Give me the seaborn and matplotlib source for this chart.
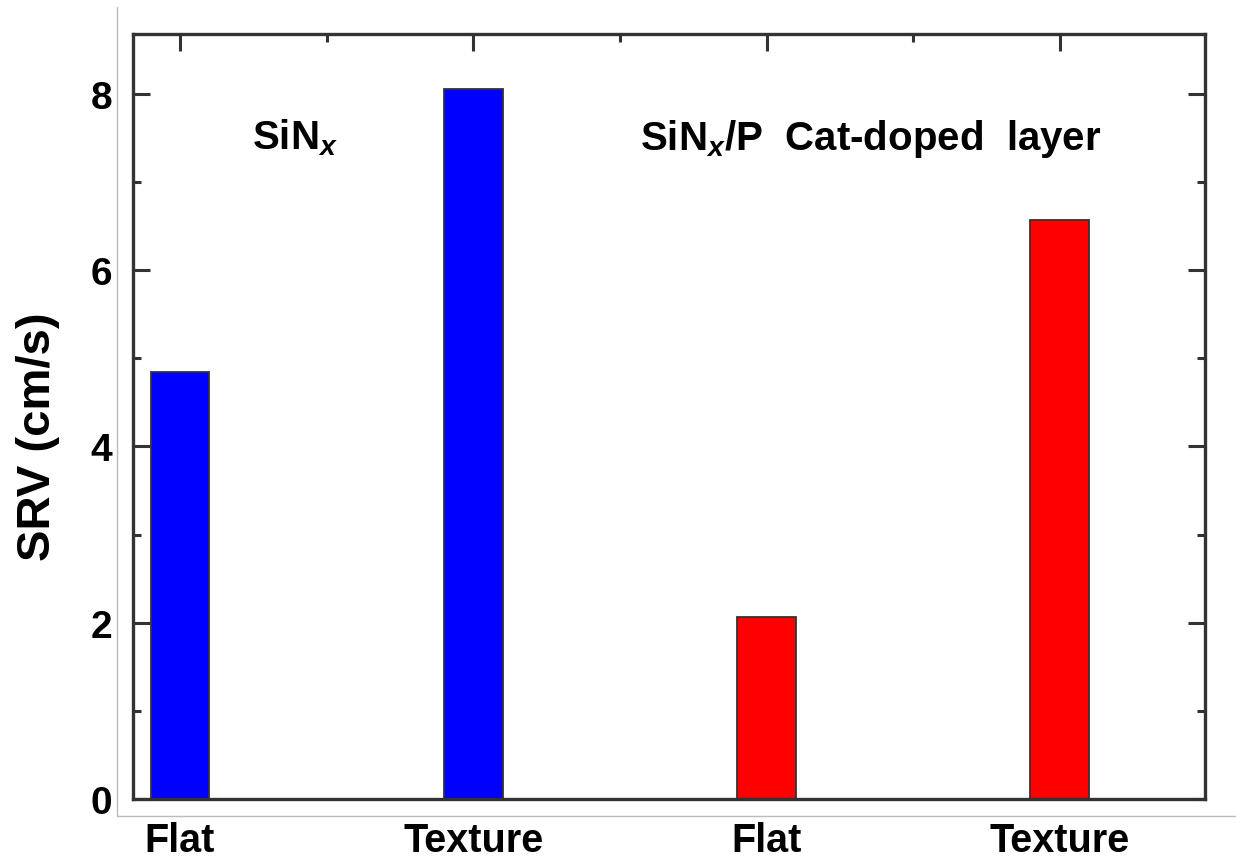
import matplotlib
matplotlib.use("Agg")
import matplotlib.pyplot as plt
import seaborn as sns
import pandas as pd
from matplotlib.ticker import MultipleLocator, FixedLocator
from matplotlib.lines import Line2D

# ---- data ----
bar_ids = ["SiNx-Flat", "SiNx-Texture", "Cat-Flat", "Cat-Texture"]
tick_labels = ["Flat", "Texture", "Flat", "Texture"]
groups = ["SiNx", "SiNx", "Cat", "Cat"]
srv = [4.85, 8.06, 2.07, 6.57]
group_colors = {"SiNx": "#0000FF", "Cat": "#FF0000"}

df = pd.DataFrame({"bar": bar_ids, "group": groups, "SRV": srv})

sns.set_theme(style="white")
plt.rcParams["font.family"] = ["Liberation Sans", "DejaVu Sans"]
plt.rcParams["font.weight"] = "bold"
plt.rcParams["text.color"] = "black"
plt.rcParams["axes.labelcolor"] = "black"
plt.rcParams["xtick.labelcolor"] = "black"
plt.rcParams["ytick.labelcolor"] = "black"
plt.rcParams["mathtext.fontset"] = "custom"
plt.rcParams["mathtext.rm"] = "Liberation Sans:bold"
plt.rcParams["mathtext.it"] = "Liberation Sans:italic:bold"
plt.rcParams["mathtext.bf"] = "Liberation Sans:bold"

fig = plt.figure(figsize=(12.42, 8.62), dpi=100)
ax = fig.add_axes([0.1071, 0.0719, 0.8631, 0.8875])

sns.barplot(data=df, x="bar", y="SRV", hue="group", palette=group_colors,
            dodge=False, width=0.2, legend=False, ax=ax,
            edgecolor="#333333", linewidth=1.3, saturation=1)

ax.set_xlim(-0.16, 3.495)
ax.set_ylim(0, 8.68)

frame_col = "#333333"
for s in ax.spines.values():
    s.set_visible(True)
    s.set_color(frame_col)
    s.set_linewidth(2.4)

ax.xaxis.set_major_locator(FixedLocator([0, 1, 2, 3]))
ax.xaxis.set_minor_locator(FixedLocator([0.5, 1.5, 2.5]))
ax.set_xticklabels(tick_labels)
ax.yaxis.set_major_locator(MultipleLocator(2))
ax.yaxis.set_minor_locator(MultipleLocator(1))

ax.tick_params(axis="x", which="both", direction="in", bottom=False, top=True,
               labelbottom=True, color=frame_col, width=2.2, labelcolor="black")
ax.tick_params(axis="x", which="major", length=12, pad=16, labelsize=28.5)
ax.tick_params(axis="x", which="minor", length=6)
ax.tick_params(axis="y", which="both", direction="in", left=True, right=True,
               color=frame_col, width=2.2, labelcolor="black")
ax.tick_params(axis="y", which="major", length=12, pad=15, labelsize=28)
ax.tick_params(axis="y", which="minor", length=6)
for lab in ax.get_xticklabels() + ax.get_yticklabels():
    lab.set_fontweight("bold")

ax.set_xlabel("")
ax.set_ylabel("SRV (cm/s)", fontsize=34, fontweight="bold", color="black")
ax.yaxis.set_label_coords(-0.068, 0.4745)

ax.text(0.245, 7.38, r"SiN$_{\mathit{x}}$", fontsize=29, fontweight="bold",
        ha="left", va="baseline", color="black")
ax.text(1.568, 7.38, r"SiN$_{\mathit{x}}$/P  Cat-doped  layer", fontsize=29,
        fontweight="bold", ha="left", va="baseline", color="black")

# faint outer frame lines
fig.add_artist(Line2D([117/1242, 117/1242], [1-8/862, 1-817/862],
                      transform=fig.transFigure, color="#bbbbbb", lw=1))
fig.add_artist(Line2D([117/1242, 1235/1242], [1-817/862, 1-817/862],
                      transform=fig.transFigure, color="#bbbbbb", lw=1))

fig.savefig("out.png", dpi=100, facecolor="white")
